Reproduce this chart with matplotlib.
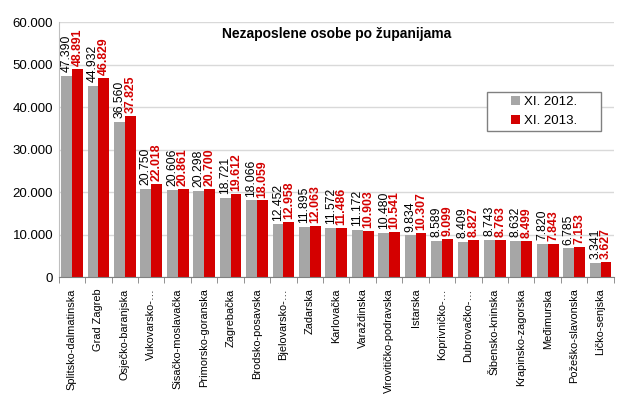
import numpy as np
import matplotlib.pyplot as plt
import matplotlib.font_manager as fm
from matplotlib.ticker import FuncFormatter
from matplotlib.patches import Rectangle

zupanije = ["Splitsko-dalmatinska", "Grad Zagreb", "Osječko-baranjska", "Vukovarsko-…",
            "Sisačko-moslavačka", "Primorsko-goranska", "Zagrebačka", "Brodsko-posavska",
            "Bjelovarsko-…", "Zadarska", "Karlovačka", "Varaždinska", "Virovitičko-podravska",
            "Istarska", "Koprivničko-…", "Dubrovačko-…", "Šibensko-kninska",
            "Krapinsko-zagorska", "Međimurska", "Požeško-slavonska", "Ličko-senjska"]
xi_2012 = [47390, 44932, 36560, 20750, 20606, 20298, 18721, 18066, 12452, 11895, 11572,
           11172, 10480, 9834, 8589, 8409, 8743, 8632, 7820, 6785, 3341]
xi_2013 = [48891, 46829, 37825, 22018, 20861, 20700, 19612, 18059, 12958, 12063, 11486,
           10903, 10541, 10307, 9099, 8827, 8763, 8499, 7843, 7153, 3627]

plt.rcParams['font.family'] = ['Liberation Sans', 'DejaVu Sans']

# uski font za nazive zupanija (ako postoji)
uski_file = None
for f in fm.fontManager.ttflist:
    if f.name == 'Liberation Sans Narrow' and f.style == 'normal' and f.weight in (400, 'normal', 'regular'):
        uski_file = f.fname
if uski_file:
    uski = fm.FontProperties(fname=uski_file, size=9.6)
else:
    uski = fm.FontProperties(family='Liberation Sans', size=7.9)

fig = plt.figure(figsize=(6.25, 3.95), dpi=100)
ax = fig.add_axes([0.094, 0.298, 0.888, 0.646])

x = np.arange(len(zupanije))
w = 0.41
siva = '#A6A6A6'
crvena = '#D40000'
ax.bar(x - w/2, xi_2012, w, color=siva, label='XI. 2012.', zorder=2)
ax.bar(x + w/2, xi_2013, w, color=crvena, label='XI. 2013.', zorder=2)

def fmt(v):
    return f"{v:,}".replace(",", ".")

for i in range(len(x)):
    ax.text(x[i] - w/2, xi_2012[i] + 900, fmt(xi_2012[i]), rotation=90, ha='center',
            va='bottom', fontsize=8.8, color='black')
    ax.text(x[i] + w/2, xi_2013[i] + 700, fmt(xi_2013[i]), rotation=90, ha='center',
            va='bottom', fontsize=8.8, color=crvena, fontweight='bold')

ax.set_xlim(-0.5, len(x) - 0.5)
ax.set_ylim(0, 60000)
ax.set_yticks(range(0, 60001, 10000))
ax.yaxis.set_major_formatter(FuncFormatter(lambda v, p: fmt(int(v))))
ax.tick_params(axis='y', length=0, labelsize=9.5, pad=4)
ax.grid(axis='y', color='#D9D9D9', lw=1, zorder=0)
ax.set_axisbelow(True)

ax.set_xticks(x)
ax.set_xticklabels(zupanije, rotation=90, fontproperties=uski)
ax.tick_params(axis='x', length=0, pad=8)
ax.set_xticks(np.arange(-0.5, len(x), 1), minor=True)
ax.tick_params(axis='x', which='minor', length=4, color='#808080')

for s in ['top', 'right']:
    ax.spines[s].set_visible(False)
ax.spines['left'].set_color('#BFBFBF')
ax.spines['bottom'].set_color('#808080')

ax.text(0.5, 0.955, 'Nezaposlene osobe po županijama', transform=ax.transAxes,
        ha='center', va='center', fontsize=10, fontweight='bold')

ax.add_patch(Rectangle((0.772, 0.573), 0.205, 0.153, transform=ax.transAxes,
                       facecolor='white', edgecolor='#808080', lw=1, zorder=3))
ax.legend(loc='center', bbox_to_anchor=(0.874, 0.649), fontsize=9.5, frameon=False,
          handlelength=0.7, handleheight=0.7, labelspacing=0.5, handletextpad=0.3,
          borderaxespad=0, borderpad=0)

fig.savefig('out.png', dpi=100)
